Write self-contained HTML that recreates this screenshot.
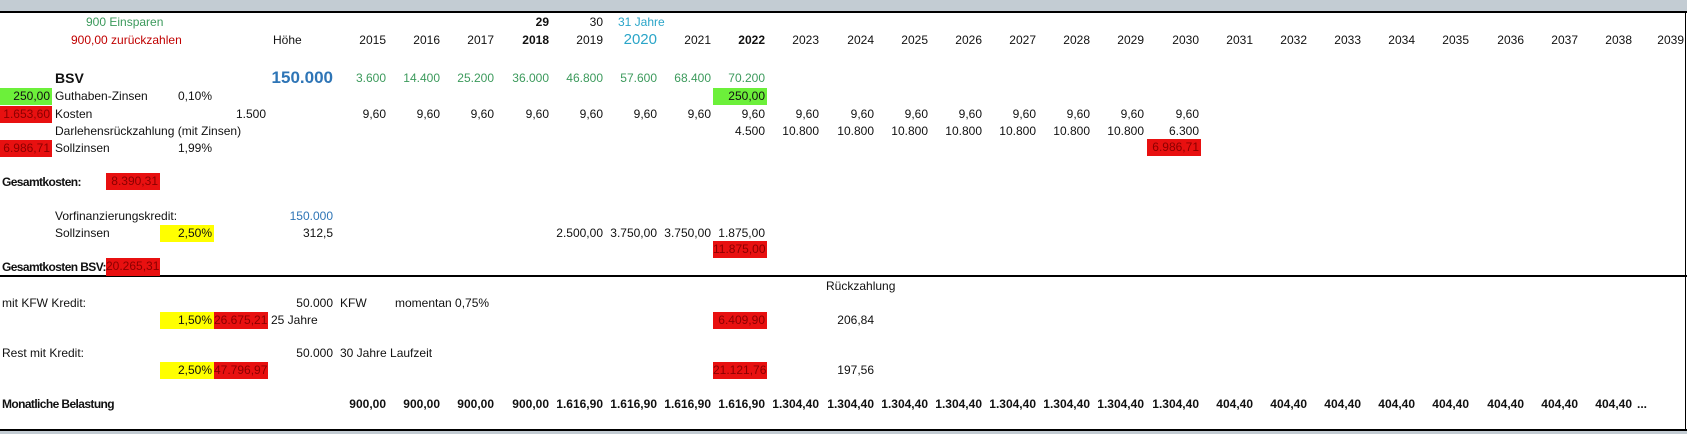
<!DOCTYPE html>
<html><head><meta charset="utf-8">
<style>
html,body{margin:0;padding:0;background:#fff;}
#w{position:relative;width:1687px;height:434px;overflow:hidden;font-family:"Liberation Sans",sans-serif;font-size:12px;color:#111;}
.c{position:absolute;height:17px;line-height:17px;white-space:nowrap;}
.r{width:54px;text-align:right;box-sizing:border-box;padding-right:2px;}
.b{font-weight:bold;}
.lb{font-weight:bold;font-size:12px;letter-spacing:-0.6px;}
.g{color:#3c9a5c;}
.red{background:#e81010;color:#8a0000;}
.grn{background:#6cf03a;color:#111;}
.yel{background:#ffff00;color:#111;}
</style></head><body><div id="w">
<div style="position:absolute;left:0;top:0;width:1687px;height:11px;background:#c3ccd3"></div>
<div style="position:absolute;left:0;top:11px;width:1687px;height:2px;background:#000"></div>
<div style="position:absolute;left:0;top:275px;width:1687px;height:2px;background:#000"></div>
<div style="position:absolute;left:0;top:429px;width:1687px;height:2px;background:#000"></div>
<div style="position:absolute;left:0;top:431px;width:1687px;height:3px;background:#c3ccd3"></div>
<div style="position:absolute;left:1685px;top:11px;width:1px;height:420px;background:#000"></div>

<div class="c g" style="left:86px;top:14px">900 Einsparen</div>
<div class="c r b" style="left:497px;top:14px">29</div>
<div class="c r" style="left:551px;top:14px">30</div>
<div class="c" style="left:618px;top:14px;color:#2aa5c8">31 Jahre</div>

<div class="c" style="left:71px;top:32px;color:#c00000">900,00 zurückzahlen</div>
<div class="c" style="left:273px;top:32px">Höhe</div>
<div class="c r" style="left:334px;top:32px">2015</div>
<div class="c r" style="left:388px;top:32px">2016</div>
<div class="c r" style="left:442px;top:32px">2017</div>
<div class="c r b" style="left:497px;top:32px">2018</div>
<div class="c r" style="left:551px;top:32px">2019</div>
<div class="c r" style="left:605px;top:31px;font-size:15px;color:#2aa5c8">2020</div>
<div class="c r" style="left:659px;top:32px">2021</div>
<div class="c r b" style="left:713px;top:32px">2022</div>
<div class="c r" style="left:767px;top:32px">2023</div>
<div class="c r" style="left:822px;top:32px">2024</div>
<div class="c r" style="left:876px;top:32px">2025</div>
<div class="c r" style="left:930px;top:32px">2026</div>
<div class="c r" style="left:984px;top:32px">2027</div>
<div class="c r" style="left:1038px;top:32px">2028</div>
<div class="c r" style="left:1092px;top:32px">2029</div>
<div class="c r" style="left:1147px;top:32px">2030</div>
<div class="c r" style="left:1201px;top:32px">2031</div>
<div class="c r" style="left:1255px;top:32px">2032</div>
<div class="c r" style="left:1309px;top:32px">2033</div>
<div class="c r" style="left:1363px;top:32px">2034</div>
<div class="c r" style="left:1417px;top:32px">2035</div>
<div class="c r" style="left:1472px;top:32px">2036</div>
<div class="c r" style="left:1526px;top:32px">2037</div>
<div class="c r" style="left:1580px;top:32px">2038</div>
<div class="c r" style="left:1631px;top:32px;padding-right:1px">2039</div>

<div class="c b" style="left:55px;top:70px;font-size:14px">BSV</div>
<div class="c b" style="left:233px;top:69px;width:100px;text-align:right;font-size:17px;color:#2e75b6">150.000</div>
<div class="c r g" style="left:334px;top:70px">3.600</div>
<div class="c r g" style="left:388px;top:70px">14.400</div>
<div class="c r g" style="left:442px;top:70px">25.200</div>
<div class="c r g" style="left:497px;top:70px">36.000</div>
<div class="c r g" style="left:551px;top:70px">46.800</div>
<div class="c r g" style="left:605px;top:70px">57.600</div>
<div class="c r g" style="left:659px;top:70px">68.400</div>
<div class="c r g" style="left:713px;top:70px">70.200</div>

<div class="c r grn" style="left:0;top:88px;width:52px">250,00</div>
<div class="c" style="left:55px;top:88px">Guthaben-Zinsen</div>
<div class="c r" style="left:160px;top:88px">0,10%</div>
<div class="c r grn" style="left:713px;top:88px">250,00</div>

<div class="c r red" style="left:0;top:106px;width:52px">1.653,60</div>
<div class="c" style="left:55px;top:106px">Kosten</div>
<div class="c r" style="left:214px;top:106px">1.500</div>
<div class="c r" style="left:334px;top:106px">9,60</div>
<div class="c r" style="left:388px;top:106px">9,60</div>
<div class="c r" style="left:442px;top:106px">9,60</div>
<div class="c r" style="left:497px;top:106px">9,60</div>
<div class="c r" style="left:551px;top:106px">9,60</div>
<div class="c r" style="left:605px;top:106px">9,60</div>
<div class="c r" style="left:659px;top:106px">9,60</div>
<div class="c r" style="left:713px;top:106px">9,60</div>
<div class="c r" style="left:767px;top:106px">9,60</div>
<div class="c r" style="left:822px;top:106px">9,60</div>
<div class="c r" style="left:876px;top:106px">9,60</div>
<div class="c r" style="left:930px;top:106px">9,60</div>
<div class="c r" style="left:984px;top:106px">9,60</div>
<div class="c r" style="left:1038px;top:106px">9,60</div>
<div class="c r" style="left:1092px;top:106px">9,60</div>
<div class="c r" style="left:1147px;top:106px">9,60</div>

<div class="c" style="left:55px;top:123px">Darlehensrückzahlung (mit Zinsen)</div>
<div class="c r" style="left:713px;top:123px">4.500</div>
<div class="c r" style="left:767px;top:123px">10.800</div>
<div class="c r" style="left:822px;top:123px">10.800</div>
<div class="c r" style="left:876px;top:123px">10.800</div>
<div class="c r" style="left:930px;top:123px">10.800</div>
<div class="c r" style="left:984px;top:123px">10.800</div>
<div class="c r" style="left:1038px;top:123px">10.800</div>
<div class="c r" style="left:1092px;top:123px">10.800</div>
<div class="c r" style="left:1147px;top:123px">6.300</div>

<div class="c r red" style="left:0;top:140px;width:52px">6.986,71</div>
<div class="c" style="left:55px;top:140px">Sollzinsen</div>
<div class="c r" style="left:160px;top:140px">1,99%</div>
<div class="c r red" style="left:1147px;top:139px">6.986,71</div>

<div class="c lb" style="left:2px;top:174px">Gesamtkosten:</div>
<div class="c r red" style="left:106px;top:173px">8.390,31</div>

<div class="c" style="left:55px;top:208px">Vorfinanzierungskredit:</div>
<div class="c r" style="left:281px;top:208px;color:#2e75b6">150.000</div>

<div class="c" style="left:55px;top:225px">Sollzinsen</div>
<div class="c r yel" style="left:160px;top:225px">2,50%</div>
<div class="c r" style="left:281px;top:225px">312,5</div>
<div class="c r" style="left:551px;top:225px">2.500,00</div>
<div class="c r" style="left:605px;top:225px">3.750,00</div>
<div class="c r" style="left:659px;top:225px">3.750,00</div>
<div class="c r" style="left:713px;top:225px">1.875,00</div>

<div class="c r red" style="left:713px;top:241px">11.875,00</div>

<div class="c lb" style="left:2px;top:259px">Gesamtkosten BSV:</div>
<div class="c r red" style="left:106px;top:258px;height:18px">20.265,31</div>

<div class="c" style="left:826px;top:278px">Rückzahlung</div>

<div class="c" style="left:2px;top:295px">mit KFW Kredit:</div>
<div class="c r" style="left:281px;top:295px">50.000</div>
<div class="c" style="left:340px;top:295px">KFW</div>
<div class="c" style="left:395px;top:295px">momentan 0,75%</div>

<div class="c r yel" style="left:160px;top:312px">1,50%</div>
<div class="c r red" style="left:214px;top:312px">26.675,21</div>
<div class="c" style="left:271px;top:312px">25 Jahre</div>
<div class="c r red" style="left:713px;top:312px">6.409,90</div>
<div class="c r" style="left:822px;top:312px">206,84</div>

<div class="c" style="left:2px;top:345px">Rest mit Kredit:</div>
<div class="c r" style="left:281px;top:345px">50.000</div>
<div class="c" style="left:340px;top:345px">30 Jahre Laufzeit</div>

<div class="c r yel" style="left:160px;top:362px">2,50%</div>
<div class="c r red" style="left:214px;top:362px">47.796,97</div>
<div class="c r red" style="left:713px;top:362px">21.121,76</div>
<div class="c r" style="left:822px;top:362px">197,56</div>

<div class="c lb" style="left:2px;top:396px">Monatliche Belastung</div>
<div class="c r b" style="left:334px;top:396px">900,00</div>
<div class="c r b" style="left:388px;top:396px">900,00</div>
<div class="c r b" style="left:442px;top:396px">900,00</div>
<div class="c r b" style="left:497px;top:396px">900,00</div>
<div class="c r b" style="left:551px;top:396px">1.616,90</div>
<div class="c r b" style="left:605px;top:396px">1.616,90</div>
<div class="c r b" style="left:659px;top:396px">1.616,90</div>
<div class="c r b" style="left:713px;top:396px">1.616,90</div>
<div class="c r b" style="left:767px;top:396px">1.304,40</div>
<div class="c r b" style="left:822px;top:396px">1.304,40</div>
<div class="c r b" style="left:876px;top:396px">1.304,40</div>
<div class="c r b" style="left:930px;top:396px">1.304,40</div>
<div class="c r b" style="left:984px;top:396px">1.304,40</div>
<div class="c r b" style="left:1038px;top:396px">1.304,40</div>
<div class="c r b" style="left:1092px;top:396px">1.304,40</div>
<div class="c r b" style="left:1147px;top:396px">1.304,40</div>
<div class="c r b" style="left:1201px;top:396px">404,40</div>
<div class="c r b" style="left:1255px;top:396px">404,40</div>
<div class="c r b" style="left:1309px;top:396px">404,40</div>
<div class="c r b" style="left:1363px;top:396px">404,40</div>
<div class="c r b" style="left:1417px;top:396px">404,40</div>
<div class="c r b" style="left:1472px;top:396px">404,40</div>
<div class="c r b" style="left:1526px;top:396px">404,40</div>
<div class="c r b" style="left:1580px;top:396px">404,40</div>
<div class="c b" style="left:1637px;top:396px">...</div>
</div></body></html>
